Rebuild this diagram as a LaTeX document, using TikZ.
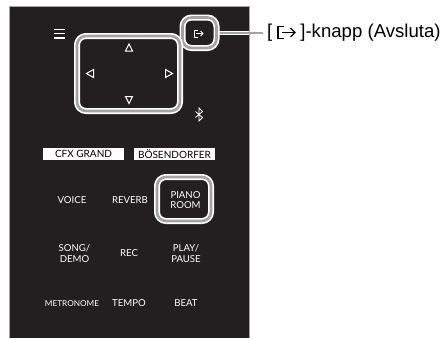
\documentclass[tikz,border=0pt]{standalone}
\usepackage{fontspec}
\setmainfont{Liberation Sans}
\newfontfamily\panelfont{Lato}
\definecolor{panel}{HTML}{231F20}
\definecolor{ringgray}{HTML}{A3A3A3}
\tikzset{
  x=1pt,y=-1pt,
  ringouter/.style={draw=white,line width=6pt,rounded corners=9pt},
  ringinner/.style={draw=ringgray,line width=2.6pt,rounded corners=9pt},
  tri/.style={draw=white,line width=1pt,line join=miter,fill=none},
  btn/.style={font=\panelfont\fontsize{9.6}{10.2}\selectfont,text=white,align=center,inner sep=0pt},
  tag/.style={fill=white,text=black,font=\panelfont\fontsize{10}{11}\selectfont,inner sep=0pt,minimum height=12pt,anchor=center},
}
\begin{document}
\begin{tikzpicture}
\useasboundingbox (0,0) rectangle (441,338);
\fill[white] (0,0) rectangle (441,338);
\fill[panel] (9,6.5) rectangle (249,338);
\draw[ringgray,line width=0.7pt] (9,338) -- (9,6.5) -- (249,6.5) -- (249,338);
% leader
\coordinate (lf) at (217,33);
\coordinate (lm) at (249,33);
\coordinate (lt) at (263,33);
\draw[white,line width=4pt] (lf) -- (lm);
\draw[ringgray,line width=2.2pt] (lf) -- (lt);
% exit ring
\draw[ringouter] (182.5,17.5) rectangle (216.5,48);
\draw[ringinner] (182.5,17.5) rectangle (216.5,48);
\draw[white,line width=1pt] (197.5,30) -- (194,30) -- (194,37) -- (197.5,37);
\draw[white,line width=1pt] (196,33.5) -- (203,33.5);
\draw[white,line width=1pt] (200.5,31) -- (203,33.5) -- (200.5,36);
% arrow pad
\draw[ringouter] (77,36) rectangle (180,111);
\draw[ringinner] (77,36) rectangle (180,111);
\draw[tri] (129,44) -- (125.5,51) -- (132.5,51) -- cycle;
\draw[tri] (129,103.5) -- (125.5,96.5) -- (132.5,96.5) -- cycle;
\draw[tri] (86.5,73.5) -- (93.5,69.5) -- (93.5,77.5) -- cycle;
\draw[tri] (172.5,73.5) -- (165.5,69.5) -- (165.5,77.5) -- cycle;
% menu
\foreach \yy in {29.5,33.5,38}{\draw[white,line width=1.8pt] (54,\yy) -- (65,\yy);}
% bluetooth
\draw[white,line width=0.8pt] (195.5,111.5) -- (202.5,117.5) -- (199,121) -- (199,108) -- (202.5,111.5) -- (195.5,117.5);
% tags
\node[tag,minimum width=81pt] (cfx) at (83.5,154) {CFX GRAND};
\node[tag,minimum width=81pt] (bos) at (174.5,154) {BÖSENDORFER};
% piano room ring
\draw[ringouter] (157,177) rectangle (211,221);
\draw[ringinner] (157,177) rectangle (211,221);
% labels
\node[btn] (voice) at (72,200) {VOICE};
\node[btn] (reverb) at (130,200) {REVERB};
\node[btn] (piano) at (185.5,200) {PIANO\\ROOM};
\node[btn] (song) at (74.5,253.5) {SONG/\\DEMO};
\node[btn] (rec) at (129,253) {REC};
\node[btn] (play) at (186,253.5) {PLAY/\\PAUSE};
\node[btn,font=\panelfont\fontsize{8.2}{9}\selectfont] (metro) at (72,303.5) {METRONOME};
\node[btn] (tempo) at (129,303.5) {TEMPO};
\node[btn] (beat) at (186,303.5) {BEAT};
% label
\node[anchor=west,inner sep=0pt,font=\fontsize{18.6}{22}\selectfont] (lab) at (267,32.5) {[\hspace*{28pt}]-knapp (Avsluta)};
\draw[black,line width=1.1pt] (284,26.5) -- (278,26.5) -- (278,38.5) -- (284,38.5);
\draw[black,line width=1.1pt] (282,32.5) -- (295,32.5);
\draw[black,line width=1.1pt] (290.5,28) -- (295,32.5) -- (290.5,37);
\end{tikzpicture}
\end{document}
